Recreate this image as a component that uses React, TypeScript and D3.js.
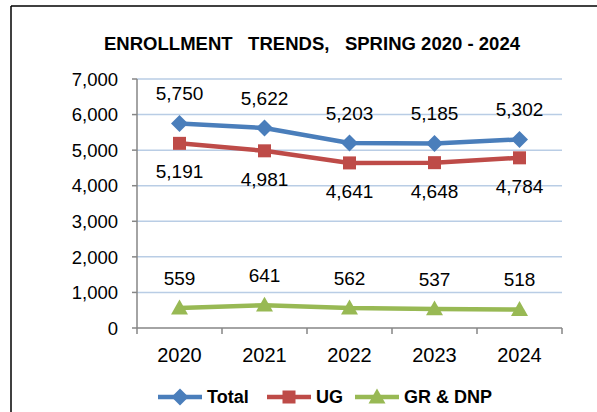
import React from "react";
import * as d3 from "d3";

const years = ["2020", "2021", "2022", "2023", "2024"];
const totalValues = [5750, 5622, 5203, 5185, 5302];
const ugValues = [5191, 4981, 4641, 4648, 4784];
const grValues = [559, 641, 562, 537, 518];
const yTicks = [0, 1000, 2000, 3000, 4000, 5000, 6000, 7000];
const seriesNames = ["Total", "UG", "GR & DNP"];

const W = 597;
const H = 412;
const plot = { left: 137, right: 562, top: 79, bottom: 328 };
const font = "'Liberation Sans', Arial, sans-serif";

type Series = { name: string; values: number[]; color: string; marker: string; labelPos: "above" | "below" };

const series: Series[] = [
  { name: seriesNames[0], values: totalValues, color: "#4a7ebb", marker: "diamond", labelPos: "above" },
  { name: seriesNames[1], values: ugValues, color: "#be4b48", marker: "square", labelPos: "below" },
  { name: seriesNames[2], values: grValues, color: "#98b954", marker: "triangle", labelPos: "above" },
];

function Marker({ type, x, y, color }: { type: string; x: number; y: number; color: string }) {
  if (type === "diamond") {
    const r = 8.5;
    return <path d={`M${x},${y - r}L${x + r},${y}L${x},${y + r}L${x - r},${y}Z`} fill={color} />;
  }
  if (type === "square") {
    const s = 6.5;
    return <rect x={x - s} y={y - s} width={2 * s} height={2 * s} fill={color} />;
  }
  const r = 8.5;
  return <path d={`M${x},${y - r}L${x + r},${y + r * 0.75}L${x - r},${y + r * 0.75}Z`} fill={color} />;
}

export default function App() {
  const x = d3.scaleBand<string>().domain(years).range([plot.left, plot.right]);
  const y = d3.scaleLinear().domain([0, 7000]).range([plot.bottom, plot.top]);
  const fmt = d3.format(",");
  const cx = (yr: string) => (x(yr) as number) + x.bandwidth() / 2;
  const line = d3
    .line<number>()
    .x((_, i) => cx(years[i]))
    .y((d) => y(d));

  const boundaries = years.map((yr) => x(yr) as number).concat([plot.right]);
  const legendX = [158, 267, 355];

  return (
    <svg width={W} height={H} style={{ position: "absolute", left: 0, top: 0 }}>
      <rect x={0} y={0} width={W} height={H} fill="#fff" />
      <line x1={11} y1={6} x2={W} y2={6} stroke="#000" strokeWidth={1.5} />
      <line x1={11} y1={6} x2={11} y2={H} stroke="#000" strokeWidth={1.5} />

      <text
        x={312}
        y={50}
        textAnchor="middle"
        fontFamily={font}
        fontWeight="bold"
        fontSize={18.5}
        textLength={416}
        lengthAdjust="spacing"
        style={{ whiteSpace: "pre" }}
      >
        {"ENROLLMENT   TRENDS,   SPRING 2020 - 2024"}
      </text>

      {yTicks.map((t) => (
        <g key={t}>
          {t > 0 && (
            <line x1={plot.left} x2={plot.right} y1={y(t)} y2={y(t)} stroke="#b9cde5" strokeWidth={1.5} />
          )}
          <line x1={plot.left - 5} x2={plot.left} y1={y(t)} y2={y(t)} stroke="#868686" strokeWidth={1.5} />
          <text x={118} y={y(t)} dy="0.36em" textAnchor="end" fontFamily={font} fontSize={18.5} fill="#000">
            {fmt(t)}
          </text>
        </g>
      ))}

      <line x1={plot.left} x2={plot.left} y1={plot.top} y2={plot.bottom} stroke="#868686" strokeWidth={1.5} />
      <line x1={plot.left} x2={plot.right} y1={plot.bottom} y2={plot.bottom} stroke="#868686" strokeWidth={1.5} />
      {boundaries.map((b, i) => (
        <line key={i} x1={b} x2={b} y1={plot.bottom} y2={plot.bottom + 6} stroke="#868686" strokeWidth={1.5} />
      ))}
      {years.map((yr) => (
        <text key={yr} x={cx(yr)} y={362} textAnchor="middle" fontFamily={font} fontSize={20} fill="#000">
          {yr}
        </text>
      ))}

      {series.map((s) => (
        <g key={s.name}>
          <path d={line(s.values) as string} fill="none" stroke={s.color} strokeWidth={4.5} strokeLinejoin="round" />
          {s.values.map((v, i) => (
            <Marker key={i} type={s.marker} x={cx(years[i])} y={y(v)} color={s.color} />
          ))}
          {s.values.map((v, i) => (
            <text
              key={"l" + i}
              x={cx(years[i])}
              y={y(v) + (s.labelPos === "above" ? -30 : 28)}
              dy="0.36em"
              textAnchor="middle"
              fontFamily={font}
              fontSize={19}
              fill="#000"
            >
              {fmt(v)}
            </text>
          ))}
        </g>
      ))}

      {series.map((s, i) => {
        const lx = legendX[i];
        const ly = 397;
        return (
          <g key={"lg" + s.name}>
            <line x1={lx} x2={lx + 44} y1={ly} y2={ly} stroke={s.color} strokeWidth={4.5} />
            <Marker type={s.marker} x={lx + 22} y={ly} color={s.color} />
            <text x={lx + 49} y={ly} dy="0.36em" fontFamily={font} fontWeight="bold" fontSize={18} fill="#000">
              {s.name}
            </text>
          </g>
        );
      })}
    </svg>
  );
}
